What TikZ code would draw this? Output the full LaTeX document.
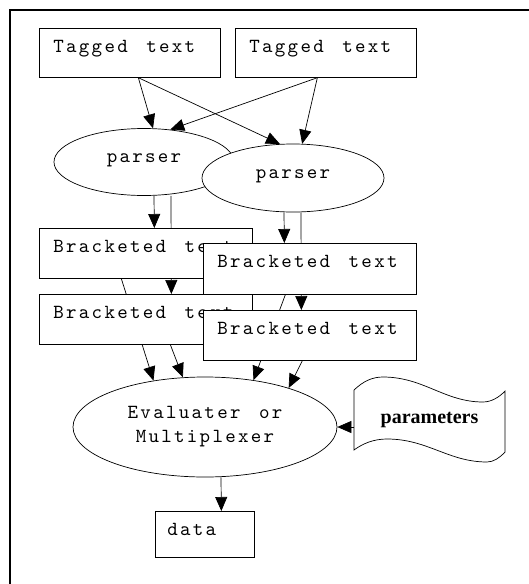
\documentclass[tikz,border=0pt]{standalone}
\usepackage{fontspec}
\newfontfamily\courfont{lmmono10-regular}[Extension=.otf,LetterSpace=11.5,WordSpace={1.44,0,0}]
\newfontfamily\parfont{Liberation Serif}
\usepackage{tikz}
\usetikzlibrary{calc,arrows.meta,shapes.geometric,backgrounds}
\newcommand\lbox[2]{\makebox[#1][l]{#2}}

\begin{document}
\begin{tikzpicture}[x=1pt,y=-1pt,
    box/.style={draw,fill=white,line width=0.7pt,anchor=north west,inner xsep=14pt,inner ysep=0pt,font=\courfont\fontsize{20}{24}\selectfont,text height=24pt},
    oval/.style={draw,fill=white,ellipse,line width=0.7pt,inner sep=0pt,font=\courfont\fontsize{20}{24}\selectfont},
    arr/.style={line width=0.7pt,-{Triangle[length=14pt,width=12pt]}},
    frame/.style={line width=1.6pt}]
    \useasboundingbox (0,0) rectangle (529,584);
    \draw[frame] (529,10) -- (10,10) -- (10,584);
    \node[box,text depth=25pt] (t1) at (39,28) {\lbox{153pt}{Tagged text}};
    \node[box,text depth=25pt] (t2) at (235,28) {\lbox{153pt}{Tagged text}};
    \node[oval,minimum width=180pt,minimum height=67pt,text height=8pt,text depth=8pt] (p1) at (144,162) {parser};
    \node[oval,minimum width=182pt,minimum height=68pt,text height=8pt,text depth=8pt] (p2) at (293,178) {parser};
    \node[box,text depth=26pt] (b1) at (39,228) {\lbox{185pt}{Bracketed text}};
    \node[box,text depth=27pt] (b2) at (203,243) {\lbox{185pt}{Bracketed text}};
    \node[box,text depth=26pt] (b3) at (39,294) {\lbox{185pt}{Bracketed text}};
    \node[box,text depth=26pt] (b4) at (203,310) {\lbox{185pt}{Bracketed text}};
    \node[oval,minimum width=264pt,minimum height=100pt,align=center] (e) at (205,427) {Evaluater or\\Multiplexer};
    \node[box,inner xsep=12pt,text depth=22pt] (d) at (155,511) {\lbox{75pt}{data}};
    \node[inner sep=0pt,minimum width=151pt,minimum height=60pt,font=\parfont\bfseries\fontsize{20}{24}\selectfont] (par) at (429.5,420) {parameters};
    \begin{scope}[shift={(par.center)}]
        \draw[line width=0.7pt] (-75.5,-30) .. controls (-66,-39) and (-57,-43) .. (-46.5,-43) .. controls (-6,-43) and (15,-18) .. (53.5,-18) .. controls (62,-18) and (70,-23) .. (75.5,-29) -- (75.5,32) .. controls (70,38) and (64,42) .. (57.5,42) .. controls (19,42) and (-2,19) .. (-42.5,19) .. controls (-55,19) and (-66,23) .. (-75.5,30) -- cycle;
    \end{scope}
    \begin{scope}[on background layer]
        \draw[arr] ([xshift=8.5pt]t1.south) -- (p1.75);
        \draw[arr] ([xshift=8.5pt]t1.south) -- (p2.111);
        \draw[arr] ([xshift=-8.5pt]t2.south) -- (p1.51);
        \draw[arr] ([xshift=-8.5pt]t2.south) -- (p2.75);
        \draw[arr] ([xshift=10pt]p1.south) -- ([xshift=8.5pt]b1.north);
        \draw[arr] ([xshift=27pt]p1.south) -- ([xshift=25.5pt]b3.north);
        \draw[arr] ([xshift=-9pt]p2.south) -- ([xshift=-25.5pt]b2.north);
        \draw[arr] ([xshift=8pt]p2.south) -- ([xshift=-8.5pt]b4.north);
        \draw[arr] ([xshift=-24.5pt]b1.south) -- (e.138);
        \draw[arr] ([xshift=24.5pt]b3.south) -- (e.114);
        \draw[arr] ([xshift=-24.5pt]b2.south) -- (e.44);
        \draw[arr] ([xshift=-7.5pt]b4.south) -- (e.25);
        \draw[arr] (par.west |- e.east) -- (e.east);
        \draw[arr] ([xshift=16pt]e.south) -- ([xshift=16.5pt]d.north);
    \end{scope}
\end{tikzpicture}
\end{document}
